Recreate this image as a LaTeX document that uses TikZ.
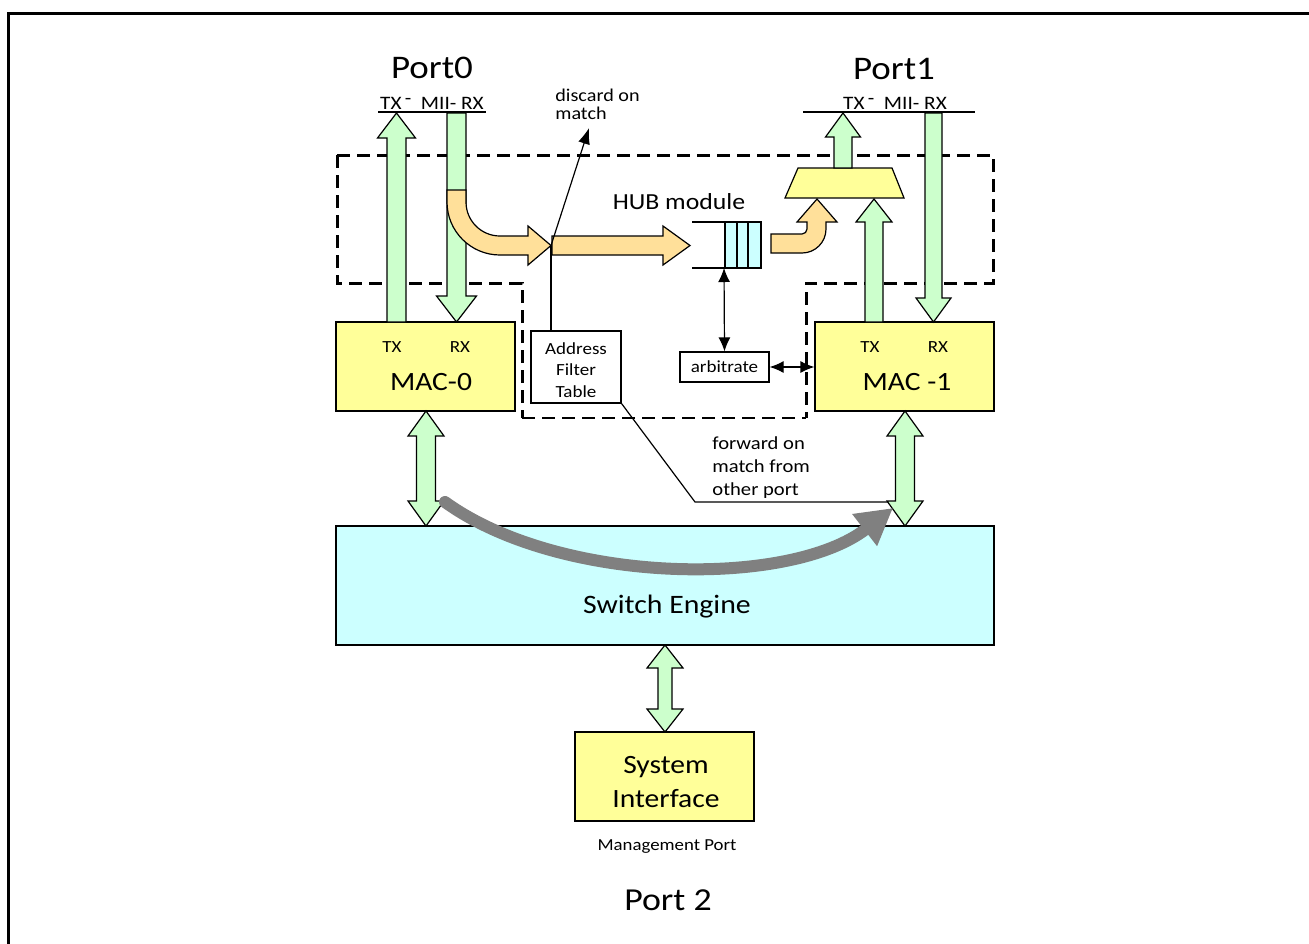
\documentclass[tikz,border=0pt]{standalone}
\usepackage{fontspec}
\setmainfont{Carlito}[FakeStretch=1.12]
\usetikzlibrary{arrows.meta,calc}
\definecolor{macyellow}{HTML}{FFFF99}
\definecolor{busgreen}{HTML}{CCFFCC}
\definecolor{swcyan}{HTML}{CCFFFF}
\definecolor{flowor}{HTML}{FFE09A}
\definecolor{fwdgray}{HTML}{808080}
\newcommand{\blkv}[7]{% x, ytail, ytip, halfshaft, halfhead, headlen(signed), fill
  \filldraw[fill=#7,draw=black,line width=0.6pt]
   ({#1-#4},{#2}) -- ({#1-#4},{#3+#6}) -- ({#1-#5},{#3+#6}) -- ({#1},{#3})
   -- ({#1+#5},{#3+#6}) -- ({#1+#4},{#3+#6}) -- ({#1+#4},{#2}) -- cycle;}
\newcommand{\blkdv}[6]{% x, ytop, ybottom, halfshaft, halfhead, headlen
  \filldraw[fill=busgreen,draw=black,line width=0.6pt]
   ({#1},{#2}) -- ({#1+#5},{#2+#6}) -- ({#1+#4},{#2+#6}) -- ({#1+#4},{#3-#6})
   -- ({#1+#5},{#3-#6}) -- ({#1},{#3}) -- ({#1-#5},{#3-#6}) -- ({#1-#4},{#3-#6})
   -- ({#1-#4},{#2+#6}) -- ({#1-#5},{#2+#6}) -- cycle;}
\newlength{\pgfxunitlen}\setlength{\pgfxunitlen}{0.5pt}
\tikzset{
  box/.style={draw=black,line width=0.6pt,inner sep=0pt},
  macbox/.style={box,fill=macyellow,minimum width=179\pgfxunitlen,minimum height=89\pgfxunitlen},
  lbl/.style={inner sep=0pt},
  hubline/.style={line width=1.5pt,dash pattern=on 6.5pt off 3.5pt},
  thinarrow/.style={line width=0.6pt,{Latex[length=7pt,width=6pt]}-{Latex[length=7pt,width=6pt]}},
}
\newcommand{\miitext}{TX\,\raisebox{0.55ex}{-}\ \ MII-\ RX}
\begin{document}
\begin{tikzpicture}[x=0.5pt,y=-0.5pt]
\useasboundingbox (0,0) rectangle (1309,943);
% frame
\draw[line width=1.5pt] (8,945) -- (8,13) -- (1311,13);

% hub dashed region
\draw[hubline] (337,155) -- (993,155) -- (993,283) -- (806,283) -- (806,418);
\draw[hubline] (337,155) -- (337,283) -- (522,283) -- (522,418);
\draw[line width=0.8pt,dash pattern=on 6.5pt off 3.5pt] (522,418) -- (806,418);

% MII labels
\node[lbl,font=\fontsize{9.5}{10}\selectfont] (mii0) at (432,103) {\miitext};
\node[lbl,font=\fontsize{9.5}{10}\selectfont] (mii1) at (895,103) {\miitext};
\draw[line width=0.6pt] (378,112) -- (486,112);
\draw[line width=0.6pt] (803,112) -- (975,112);
\node[lbl,font=\fontsize{16.5}{18}\selectfont] (p0) at (432,68) {Port0};
\node[lbl,font=\fontsize{16.5}{18}\selectfont] (p1) at (894,69) {Port1};

% MAC boxes
\node[macbox] (mac0) at (425.5,366.5) {};
\node[macbox] (mac1) at (904.5,366.5) {};
\node[lbl,font=\fontsize{8.5}{9}\selectfont] at (392,347) {TX};
\node[lbl,font=\fontsize{8.5}{9}\selectfont] at (460,347) {RX};
\node[lbl,font=\fontsize{13.2}{14}\selectfont] at (431,382) {MAC-0};
\node[lbl,font=\fontsize{8.5}{9}\selectfont] at (870,347) {TX};
\node[lbl,font=\fontsize{8.5}{9}\selectfont] at (938,347) {RX};
\node[lbl,font=\fontsize{13.2}{14}\selectfont] at (907,382) {MAC -1};

% Port0 arrows
\blkv{396.5}{322}{113}{9.5}{19}{25}{busgreen}
\blkv{456.5}{113}{322}{9.5}{20}{-26}{busgreen}
% orange flow from RX into hub
\filldraw[fill=flowor,draw=black,line width=0.6pt]
  (447,190) -- (466,190) -- (466,202) arc[start angle=180,end angle=90,radius=34]
  -- (528,236) -- (528,226) -- (551,245.5) -- (528,265) -- (528,255) -- (500,255)
  arc[start angle=90,end angle=180,radius=53] -- cycle;
\filldraw[fill=flowor,draw=black,line width=0.6pt]
  (552,236) -- (663,236) -- (663,226) -- (690,245.5) -- (663,265) -- (663,255) -- (552,255) -- cycle;
\coordinate (split) at (551,245.5);

% HUB module
\node[lbl,font=\fontsize{11.5}{12}\selectfont] (hub) at (679,202) {HUB module};
\draw[line width=0.6pt] (692,222) -- (761,222);
\draw[line width=0.6pt] (692,268) -- (761,268);
\filldraw[fill=swcyan,draw=black,line width=0.6pt] (725,222) rectangle (737,268);
\filldraw[fill=swcyan,draw=black,line width=0.6pt] (737,222) rectangle (748,268);
\filldraw[fill=swcyan,draw=black,line width=0.6pt] (748,222) rectangle (761,268);
\coordinate (fifo) at (724,268);
% orange flow to mux
\filldraw[fill=flowor,draw=black,line width=0.6pt]
  (771,234) -- (802,234) arc[start angle=90,end angle=0,radius=5]
  -- (807,222) -- (797,222) -- (817,199) -- (837,222) -- (826,222) -- (826,229)
  arc[start angle=0,end angle=90,radius=24] -- (771,253) -- cycle;
% mux
\filldraw[fill=macyellow,draw=black,line width=0.6pt] (798,168) -- (892,168) -- (904,198) -- (785,198) -- cycle;

% Port1 arrows
\blkv{843}{168}{113}{9}{17.5}{24}{busgreen}
\blkv{874}{322}{199}{9}{18}{23}{busgreen}
\blkv{933.5}{113}{322}{8.5}{17.5}{-24}{busgreen}

% discard
\node[lbl,anchor=north west,align=left,font=\fontsize{9}{9}\selectfont] (disc) at (555,89) {discard on\\match};
\coordinate (disctip) at (589,128);
\draw[line width=0.6pt,-{Latex[length=8pt,width=6pt]}] (split) -- (disctip);

% Address filter table
\node[box,fill=white,minimum width=90\pgfxunitlen,minimum height=72\pgfxunitlen] (aft) at (576,367) {};
\node[lbl,align=center,font=\fontsize{8.5}{10.8}\selectfont] (afttext) at (576,370) {Address\\Filter\\Table};
\draw[line width=0.6pt] (split) -- (split |- aft.north);
\coordinate (fwdend) at (893,502);
\draw[line width=0.6pt] (aft.south east) -- (695,502) -- (fwdend);
\node[lbl,anchor=north west,align=left,font=\fontsize{9.2}{11.5}\selectfont] (fwd) at (712,436) {forward on\\match from\\other port};

% arbitrate
\node[box,fill=white,minimum width=89\pgfxunitlen,minimum height=30\pgfxunitlen,font=\fontsize{8.5}{9}\selectfont] (arb) at (724.5,367) {arbitrate};
\draw[thinarrow] (fifo) -- (arb.north);
\draw[thinarrow] (arb.east) -- (mac1.west |- arb.east);

% Switch engine
\node[box,fill=swcyan,minimum width=658\pgfxunitlen,minimum height=119\pgfxunitlen] (sw) at (665,585.5) {};
\node[lbl,font=\fontsize{13.3}{14}\selectfont] at (667,607) {Switch Engine};
\blkdv{426}{411}{526}{9.5}{18}{25}
\blkdv{905}{411}{526}{9.5}{18}{25}

% gray forwarding arc
\draw[fwdgray,line width=6pt,line cap=round,-{Triangle[length=18pt,width=19pt]}] (445,502) .. controls (560,585) and (790,588) .. (893,508);

% system interface
\node[box,fill=macyellow,minimum width=179\pgfxunitlen,minimum height=89\pgfxunitlen] (si) at (664.5,776.5) {};
\node[lbl,align=center,font=\fontsize{13.2}{17}\selectfont] (sitext) at (666,782) {System\\Interface};
\blkdv{665}{645}{732}{7}{18}{23}
\node[lbl,font=\fontsize{8.4}{9}\selectfont] (mgmt) at (667,847) {Management Port};
\node[lbl,font=\fontsize{16}{18}\selectfont] (p2) at (668,900) {Port 2};
\end{tikzpicture}
\end{document}
